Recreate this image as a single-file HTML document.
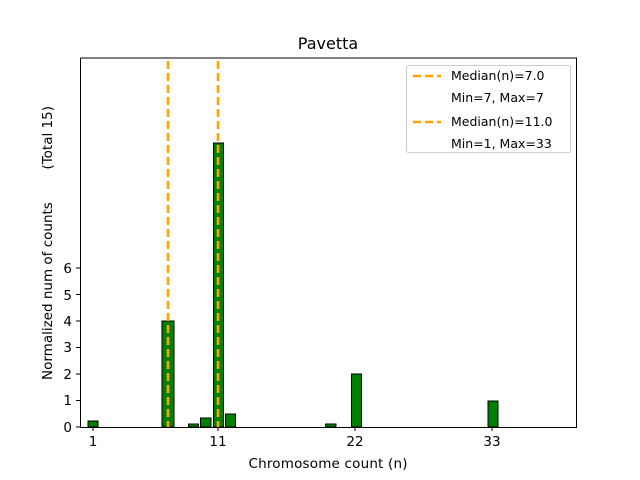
<!DOCTYPE html>
<html><head><style>body{margin:0;background:#fff}svg{display:block}text{font-family:"DejaVu Sans","Liberation Sans",sans-serif;fill:#000}</style></head><body>
<svg width="640" height="480" viewBox="0 0 640 480">
<rect width="640" height="480" fill="#fff"/>
<g fill="#008000" stroke="#000" stroke-width="1">
<rect x="88" y="421" width="10" height="6"/>
<rect x="162" y="321" width="12" height="106"/>
<rect x="188.5" y="424" width="10" height="3"/>
<rect x="200.5" y="418" width="10.5" height="9"/>
<rect x="213.5" y="143" width="10" height="284"/>
<rect x="225.5" y="414" width="10" height="13"/>
<rect x="325.5" y="424" width="10.5" height="3"/>
<rect x="351.5" y="374" width="10" height="53"/>
<rect x="488" y="401" width="10" height="26"/>
</g>
<g stroke="#FFA500" stroke-width="2.6" stroke-dasharray="8,4">
<line x1="168" y1="61" x2="168" y2="427"/>
<line x1="218" y1="61" x2="218" y2="427"/>
</g>
<g fill="none" stroke="#000" stroke-width="1">
<path d="M80.5 58V427.5H576.5V58H80.5"/>
<path d="M93 427v4M218 427v4M355 427v4M492 427v4"/>
<path d="M80 427h-4M80 400.5h-4M80 374h-4M80 347.5h-4M80 321h-4M80 294.5h-4M80 268h-4"/>
</g>
<g font-size="13.5" text-anchor="middle">
<text x="93" y="446">1</text><text x="218" y="446">11</text><text x="355" y="446">22</text><text x="492" y="446">33</text>
<text x="328" y="468" textLength="159">Chromosome count (n)</text>
</g>
<g font-size="13.5" text-anchor="end">
<text x="72" y="432">0</text><text x="72" y="405">1</text><text x="72" y="379">2</text><text x="72" y="352">3</text><text x="72" y="326">4</text><text x="72" y="300">5</text><text x="72" y="273">6</text>
</g>
<g transform="translate(52,243) rotate(-90)" font-size="13.5">
<text x="-137" y="0">Normalized num of counts</text>
<text x="137" y="0" text-anchor="end">(Total 15)</text>
</g>
<text x="328" y="49" font-size="16" text-anchor="middle">Pavetta</text>
<rect x="406.5" y="65.5" width="164" height="87" rx="2" fill="#fff" stroke="#ccc"/>
<g stroke="#FFA500" stroke-width="2.6" stroke-dasharray="8,4"><line x1="413" y1="76" x2="441" y2="76"/><line x1="413" y1="122" x2="441" y2="122"/></g>
<g font-size="12.5"><text x="451" y="80">Median(n)=7.0</text><text x="451" y="102">Min=7, Max=7</text><text x="451" y="126">Median(n)=11.0</text><text x="451" y="148">Min=1, Max=33</text></g>
</svg>
</body></html>
